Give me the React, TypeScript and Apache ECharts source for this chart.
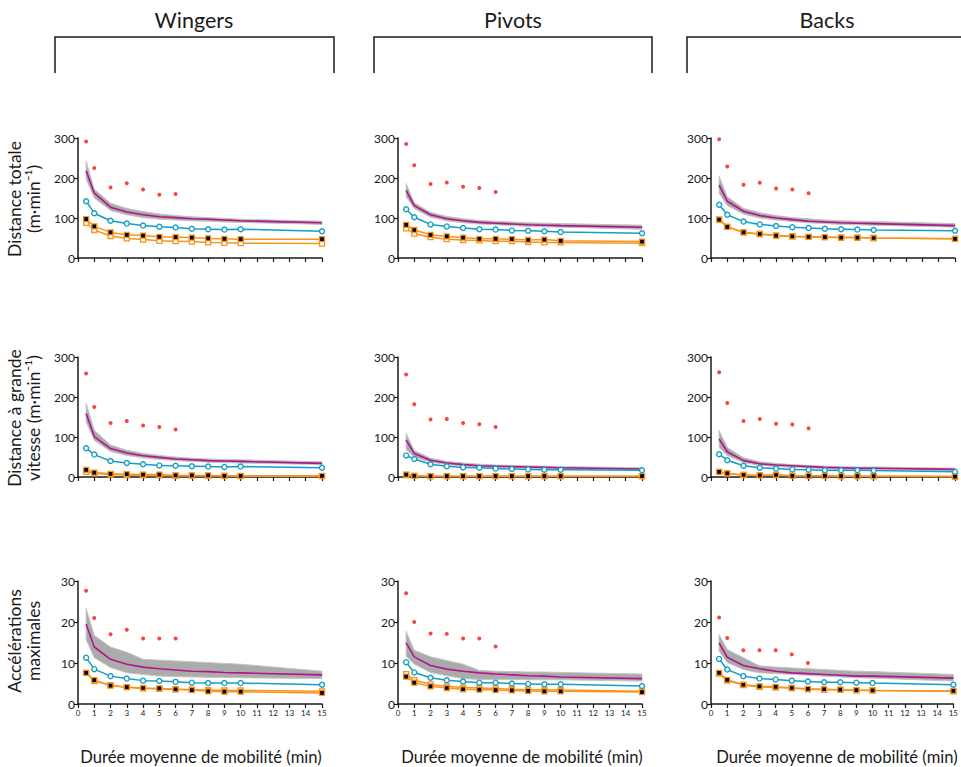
import React, { useEffect, useRef } from "react";
import * as echarts from "echarts";

// Durations (min) at which the rolling-window curves are sampled
const XS = [0.5, 1, 2, 3, 4, 5, 6, 7, 8, 9, 10, 15];
// Durations of the match-peak points
const PEAK_XS = [0.5, 1, 2, 3, 4, 5, 6];

const POSITIONS = ["Wingers", "Pivots", "Backs"];
const METRIC_TITLES = [
  "Distance totale\n(m·min⁻¹)",
  "Distance à grande\nvitesse (m·min⁻¹)",
  "Accélérations\nmaximales",
];
const X_TITLE = "Durée moyenne de mobilité (min)";
const X_TICKS = [0, 15, 1];
const Y_TICKS_DIST = [0, 300, 100];
const Y_TICKS_ACC = [0, 30, 10];

// ---- Distance totale ----
const wTotPeak = [291, 225, 176, 187, 171, 158, 160];
const wTotMean = [218, 162, 127, 115, 108, 103, 101, 98, 97, 95, 93, 88];
const wTotHi = [242, 172, 137, 124, 116, 110, 106, 103, 101, 99, 97, 92];
const wTotLo = [198, 150, 119, 108, 101, 97, 95, 93, 92, 90, 89, 84];
const wTotCyan = [142, 112, 93, 86, 81, 78, 76, 73, 72, 71, 72, 67];
const wTotFilled = [97, 79, 64, 58, 56, 53, 52, 51, 49, 48, 47, 47];
const wTotOpen = [88, 70, 55, 49, 46, 43, 42, 41, 39, 38, 37, 36];

const pTotPeak = [285, 232, 185, 189, 178, 175, 165];
const pTotMean = [169, 131, 108, 98, 93, 89, 87, 85, 83, 82, 81, 77];
const pTotHi = [186, 138, 114, 104, 98, 94, 92, 90, 88, 87, 86, 82];
const pTotLo = [153, 124, 102, 93, 88, 85, 83, 81, 79, 78, 77, 72];
const pTotCyan = [122, 102, 84, 79, 75, 72, 71, 69, 68, 67, 65, 62];
const pTotFilled = [83, 70, 58, 54, 51, 48, 48, 47, 45, 46, 43, 41];
const pTotOpen = [74, 61, 52, 47, 45, 44, 42, 42, 40, 39, 39, 37];

const bTotPeak = [297, 229, 183, 188, 174, 171, 162];
const bTotMean = [182, 142, 117, 106, 100, 96, 92, 90, 88, 87, 86, 81];
const bTotHi = [204, 153, 124, 113, 106, 101, 98, 95, 93, 92, 91, 86];
const bTotLo = [162, 131, 110, 100, 95, 91, 88, 86, 84, 83, 82, 77];
const bTotCyan = [133, 108, 91, 84, 80, 77, 75, 73, 72, 71, 70, 68];
const bTotFilled = [96, 78, 64, 60, 56, 54, 53, 52, 51, 51, 50, 48];
const bTotOpen = [96, 78, 64, 60, 56, 54, 53, 52, 51, 51, 50, 48];

// ---- Distance à grande vitesse ----
const wHsrPeak = [259, 175, 135, 140, 129, 125, 119];
const wHsrMean = [159, 101, 71, 60, 53, 49, 45, 43, 41, 40, 39, 34];
const wHsrHi = [184, 117, 80, 67, 59, 54, 50, 47, 45, 44, 43, 38];
const wHsrLo = [138, 92, 64, 54, 48, 44, 41, 39, 37, 36, 35, 31];
const wHsrCyan = [72, 56, 40, 35, 32, 29, 28, 27, 26, 25, 26, 23];
const wHsrFilled = [18, 11, 8, 7, 6, 6, 4, 4, 4, 3, 3, 3];
const wHsrOpen = [13, 9, 6, 5, 4, 4, 3, 3, 3, 3, 2, 2];

const pHsrPeak = [256, 182, 144, 145, 135, 132, 125];
const pHsrMean = [92, 59, 42, 35, 31, 28, 27, 26, 25, 24, 23, 20];
const pHsrHi = [109, 66, 47, 39, 35, 32, 30, 29, 28, 27, 26, 23];
const pHsrLo = [68, 50, 37, 31, 27, 25, 24, 23, 22, 21, 20, 17];
const pHsrCyan = [54, 45, 32, 27, 24, 23, 21, 20, 19, 18, 18, 17];
const pHsrFilled = [6, 3, 2, 2, 2, 2, 2, 2, 2, 2, 2, 2];
const pHsrOpen = [5, 3, 2, 2, 2, 2, 2, 2, 2, 2, 2, 2];

const bHsrPeak = [262, 185, 140, 145, 133, 131, 122];
const bHsrMean = [95, 63, 41, 33, 30, 28, 26, 24, 23, 22, 22, 19];
const bHsrHi = [116, 74, 48, 38, 34, 31, 29, 27, 26, 25, 25, 22];
const bHsrLo = [74, 54, 36, 29, 26, 24, 23, 21, 20, 19, 19, 16];
const bHsrCyan = [57, 42, 28, 23, 21, 19, 18, 17, 17, 17, 16, 13];
const bHsrFilled = [13, 9, 5, 4, 5, 3, 3, 3, 2, 2, 2, 1];
const bHsrOpen = [13, 9, 5, 4, 5, 3, 3, 3, 2, 2, 2, 1];

// ---- Accélérations maximales ----
const wAccPeak = [27.6, 21, 17, 18.1, 16, 16, 16];
const wAccMean = [19.5, 13.9, 10.9, 9.7, 9.0, 8.6, 8.3, 8.0, 7.9, 7.7, 7.6, 7.1];
const wAccHi = [23.3, 16.7, 13.9, 12.6, 10.9, 10.7, 10.5, 10.3, 10.1, 9.9, 9.7, 8.0];
const wAccLo = [15.7, 11.3, 8.9, 7.6, 7.2, 6.8, 6.7, 6.6, 6.5, 6.5, 6.4, 6.2];
const wAccCyan = [11.3, 8.5, 6.8, 6.2, 5.7, 5.6, 5.4, 5.2, 5.1, 5.1, 5.1, 4.7];
const wAccFilled = [7.6, 5.8, 4.5, 4.1, 3.9, 3.8, 3.6, 3.4, 3.1, 3.0, 3.0, 2.7];
const wAccOpen = [7.6, 5.6, 4.6, 4.1, 3.8, 3.7, 3.6, 3.5, 3.4, 3.3, 3.3, 3.1];

const pAccPeak = [27, 20, 17.2, 17.1, 16, 16, 14];
const pAccMean = [14.9, 11.5, 9.4, 8.5, 8.0, 7.6, 7.3, 7.1, 6.9, 6.8, 6.6, 6.2];
const pAccHi = [17.7, 13.1, 11.5, 10.6, 9.7, 8.2, 8.0, 7.9, 7.8, 7.8, 7.7, 7.3];
const pAccLo = [11.7, 9.7, 7.7, 6.9, 6.2, 6.0, 6.0, 6.0, 5.9, 5.9, 5.9, 5.6];
const pAccCyan = [10.2, 7.7, 6.4, 5.8, 5.5, 5.2, 5.2, 5.0, 4.9, 4.8, 4.8, 4.4];
const pAccFilled = [6.7, 5.2, 4.3, 3.9, 3.6, 3.5, 3.4, 3.3, 3.2, 3.1, 3.1, 2.9];
const pAccOpen = [7.3, 5.8, 4.8, 4.3, 4.0, 3.9, 3.8, 3.6, 3.5, 3.5, 3.4, 3.1];

const bAccPeak = [21.1, 16.1, 13.1, 13.1, 13.1, 12.1, 10];
const bAccMean = [14.9, 11.4, 9.4, 8.6, 8.0, 7.6, 7.4, 7.2, 7.0, 6.8, 6.8, 6.3];
const bAccHi = [16.9, 13.3, 11.3, 9.3, 9.0, 8.8, 8.6, 8.4, 8.2, 8.0, 7.9, 7.2];
const bAccLo = [12.9, 10.1, 8.4, 7.6, 7.4, 7.2, 7.0, 6.8, 6.6, 6.4, 6.3, 5.6];
const bAccCyan = [11.0, 8.4, 6.8, 6.2, 6.0, 5.7, 5.5, 5.3, 5.3, 5.2, 5.1, 4.7];
const bAccFilled = [7.6, 5.9, 4.7, 4.3, 4.2, 3.9, 3.7, 3.6, 3.5, 3.4, 3.3, 3.2];
const bAccOpen = [7.4, 5.7, 4.6, 4.2, 4.0, 3.9, 3.6, 3.5, 3.5, 3.3, 3.3, 3.1];

const PANELS = [
  [wTotPeak, wTotMean, wTotHi, wTotLo, wTotCyan, wTotFilled, wTotOpen],
  [pTotPeak, pTotMean, pTotHi, pTotLo, pTotCyan, pTotFilled, pTotOpen],
  [bTotPeak, bTotMean, bTotHi, bTotLo, bTotCyan, bTotFilled, bTotOpen],
  [wHsrPeak, wHsrMean, wHsrHi, wHsrLo, wHsrCyan, wHsrFilled, wHsrOpen],
  [pHsrPeak, pHsrMean, pHsrHi, pHsrLo, pHsrCyan, pHsrFilled, pHsrOpen],
  [bHsrPeak, bHsrMean, bHsrHi, bHsrLo, bHsrCyan, bHsrFilled, bHsrOpen],
  [wAccPeak, wAccMean, wAccHi, wAccLo, wAccCyan, wAccFilled, wAccOpen],
  [pAccPeak, pAccMean, pAccHi, pAccLo, pAccCyan, pAccFilled, pAccOpen],
  [bAccPeak, bAccMean, bAccHi, bAccLo, bAccCyan, bAccFilled, bAccOpen],
];

const FONT = "Lato, 'DejaVu Sans', sans-serif";
const INK = "#1a1a1a";
const RED = "#f01818";
const MAGENTA = "#b3158c";
const CYAN = "#139fc4";
const ORANGE = "#f7941d";
const BAND = "#ababab";

const COL_LEFT = [78, 398, 711];
const COL_WIDTH = 244;
const ROW_TOP = [138, 357, 581];
const ROW_HEIGHT = [120, 120, 123];

function buildOption() {
  const grid: any[] = [];
  const xAxis: any[] = [];
  const yAxis: any[] = [];
  const series: any[] = [];

  PANELS.forEach((p, i) => {
    const row = Math.floor(i / 3);
    const col = i % 3;
    const [peak, mean, hi, lo, cyan, filled, open] = p;
    const yt = row === 2 ? Y_TICKS_ACC : Y_TICKS_DIST;

    grid.push({
      left: COL_LEFT[col],
      top: ROW_TOP[row],
      width: COL_WIDTH,
      height: ROW_HEIGHT[row],
      containLabel: false,
    });
    xAxis.push({
      type: "value",
      gridIndex: i,
      min: X_TICKS[0],
      max: X_TICKS[1],
      interval: X_TICKS[2],
      axisLine: { show: true, onZero: false, lineStyle: { color: INK, width: 1.5 } },
      axisTick: { show: true, length: 4, lineStyle: { color: INK, width: 1.2 } },
      axisLabel: {
        show: row === 2,
        fontSize: 8,
        color: INK,
        margin: 5,
        fontFamily: FONT,
      },
      splitLine: { show: false },
    });
    yAxis.push({
      type: "value",
      gridIndex: i,
      min: yt[0],
      max: yt[1],
      interval: yt[2],
      axisLine: { show: true, onZero: false, lineStyle: { color: INK, width: 1.5 } },
      axisTick: { show: true, length: 4, lineStyle: { color: INK, width: 1.2 } },
      axisLabel: { fontSize: 12, color: INK, margin: 3, fontFamily: FONT },
      splitLine: { show: false },
    });

    const bandData = XS.map((x, k) => [x, lo[k], hi[k]]);
    series.push({
      type: "custom",
      xAxisIndex: i,
      yAxisIndex: i,
      data: bandData,
      encode: { x: 0, y: [1, 2] },
      z: 1,
      silent: true,
      renderItem: (params: any, api: any) => {
        if (params.dataIndex !== 0) return null;
        const upper = XS.map((x, k) => api.coord([x, hi[k]]));
        const lower = XS.map((x, k) => api.coord([x, lo[k]])).reverse();
        return {
          type: "polygon",
          shape: { points: upper.concat(lower) },
          style: { fill: BAND, stroke: "#c4c4c4", lineWidth: 1 },
        };
      },
    });
    series.push({
      type: "line",
      xAxisIndex: i,
      yAxisIndex: i,
      data: XS.map((x, k) => [x, mean[k]]),
      showSymbol: false,
      symbol: "none",
      lineStyle: { color: MAGENTA, width: 1.6 },
      z: 3,
    });
    series.push({
      type: "line",
      xAxisIndex: i,
      yAxisIndex: i,
      data: XS.map((x, k) => [x, open[k]]),
      symbol: "rect",
      symbolSize: 5,
      lineStyle: { color: ORANGE, width: 1.5 },
      itemStyle: { color: "#ffffff", borderColor: ORANGE, borderWidth: 1.3 },
      z: 4,
    });
    series.push({
      type: "line",
      xAxisIndex: i,
      yAxisIndex: i,
      data: XS.map((x, k) => [x, filled[k]]),
      symbol: "rect",
      symbolSize: 5,
      lineStyle: { color: ORANGE, width: 1.5 },
      itemStyle: { color: "#000000", borderColor: ORANGE, borderWidth: 1.3 },
      z: 5,
    });
    series.push({
      type: "line",
      xAxisIndex: i,
      yAxisIndex: i,
      data: XS.map((x, k) => [x, cyan[k]]),
      symbol: "circle",
      symbolSize: 5,
      lineStyle: { color: CYAN, width: 1.5 },
      itemStyle: { color: "#ffffff", borderColor: CYAN, borderWidth: 1.4 },
      z: 6,
    });
    series.push({
      type: "scatter",
      xAxisIndex: i,
      yAxisIndex: i,
      data: PEAK_XS.map((x, k) => [x, peak[k]]),
      symbol: "circle",
      symbolSize: 4,
      itemStyle: { color: RED },
      z: 7,
    });
  });

  const graphic: any[] = [];
  const titleCenters = [194, 513, 827];
  const xTitleCenters = [201, 522, 837];
  const brackets = [
    [55, 334],
    [374, 652],
    [687, 975],
  ];
  const centered = {
    fontFamily: FONT,
    fill: INK,
    textAlign: "center",
    textVerticalAlign: "middle",
    align: "center",
    verticalAlign: "middle",
  };
  POSITIONS.forEach((name, c) => {
    graphic.push({
      type: "text",
      x: titleCenters[c],
      y: 20,
      style: { ...centered, text: name, fontSize: 21.5 },
    });
    const [l, r] = brackets[c];
    graphic.push({
      type: "polyline",
      shape: { points: [[l, 73], [l, 37], [r, 37], [r, 73]] },
      style: { stroke: INK, lineWidth: 1.5, fill: null },
    });
    graphic.push({
      type: "text",
      x: xTitleCenters[c],
      y: 757,
      style: { ...centered, text: X_TITLE, fontSize: 16.6 },
    });
  });
  const metricCenters = [199, 418, 641];
  METRIC_TITLES.forEach((t, r) => {
    graphic.push({
      type: "text",
      x: 24,
      y: metricCenters[r],
      rotation: Math.PI / 2,
      style: { ...centered, text: t, fontSize: 17.5, lineHeight: 19 },
    });
  });

  return {
    animation: false,
    backgroundColor: "#ffffff",
    textStyle: { fontFamily: FONT },
    grid,
    xAxis,
    yAxis,
    series,
    graphic,
  };
}

export default function App() {
  const ref = useRef<HTMLDivElement>(null);
  useEffect(() => {
    if (!ref.current) return;
    const chart = echarts.init(ref.current, undefined, { renderer: "svg" });
    chart.setOption(buildOption() as any);
    return () => chart.dispose();
  }, []);
  return (
    <div
      ref={ref}
      style={{ position: "fixed", left: 0, top: 0, width: 961, height: 767, background: "#fff" }}
    />
  );
}
